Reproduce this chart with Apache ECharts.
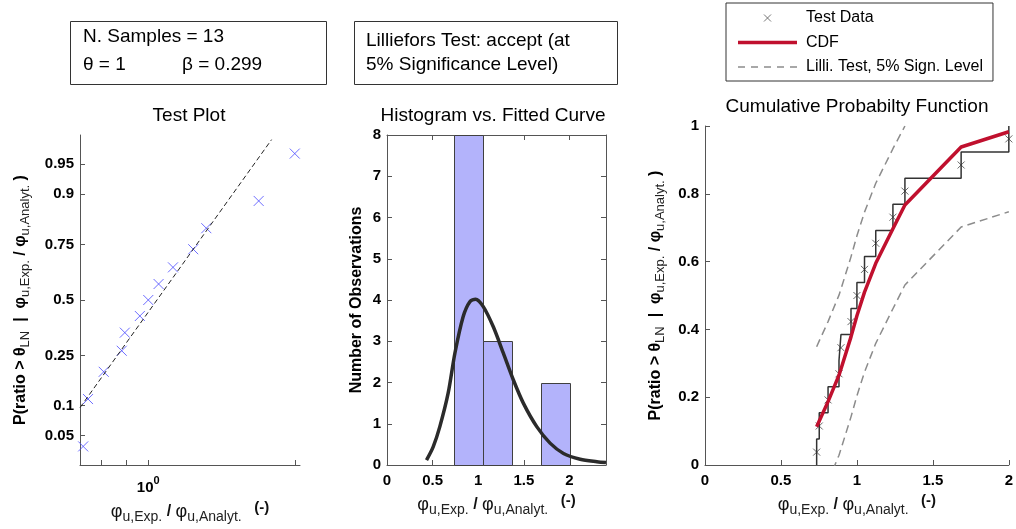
<!DOCTYPE html>
<html>
<head>
<meta charset="utf-8">
<title>Lognormal fit check</title>
<script src="https://cdn.jsdelivr.net/npm/echarts@6/dist/echarts.min.js"></script>
<style>
  html, body { margin: 0; padding: 0; background: #fff; }
  #main { width: 1016px; height: 529px; }
</style>
</head>
<body>
<div id="main"></div>
<script>
// measured ratios phi_u,Exp / phi_u,Analyt (sorted)
var sampleRatio = [0.735, 0.752, 0.81, 0.882, 0.895, 0.961, 1.0, 1.05, 1.124, 1.237, 1.316, 1.686, 2.0];
// plotting positions of the samples
var sampleProb = [0.038, 0.115, 0.192, 0.269, 0.346, 0.423, 0.5, 0.577, 0.654, 0.731, 0.808, 0.885, 0.962];
// empirical cdf levels, first one is the foot of the stair
var stepLevel = [0, 0.077, 0.154, 0.231, 0.308, 0.385, 0.462, 0.538, 0.615, 0.692, 0.769, 0.846, 0.923, 1.0];
// fitted lognormal cdf at the samples
var cdfFit = [0.113, 0.13, 0.187, 0.265, 0.283, 0.378, 0.44, 0.51, 0.595, 0.697, 0.767, 0.938, 0.983];
// lilliefors bounds at the samples (null = not drawn)
var lilliUpper = [0.349, 0.366, 0.423, 0.501, 0.519, 0.614, 0.676, 0.746, 0.831, 0.933, 1.0, null, null];
var lilliLower = [null, null, -0.049, 0.029, 0.047, 0.142, 0.204, 0.274, 0.359, 0.461, 0.531, 0.702, 0.747];

// histogram
var binEdges = [0.735, 1.051, 1.367, 1.684, 2.0];
var binCount = [8, 3, 0, 2];
var fitCurveX = [0.433, 0.506, 0.579, 0.67, 0.744, 0.835, 0.908, 0.971, 1.055, 1.165, 1.275, 1.385, 1.494, 1.641, 1.787, 1.934, 2.117, 2.3, 2.4];
var fitCurveY = [0.12, 0.44, 0.93, 1.74, 2.71, 3.6, 3.96, 4.02, 3.84, 3.35, 2.71, 2.06, 1.5, 0.93, 0.53, 0.28, 0.14, 0.08, 0.06];

// test plot reference line (ends)
var refLineX = [0.724, 1.792];
var refLineP = [0.096, 0.974];
var probTicks = [0.05, 0.1, 0.25, 0.5, 0.75, 0.9, 0.95];
var logMinorTicks = [0.8, 0.9, 1, 2];
var histTicks = [0, 0.5, 1, 1.5, 2];

var FONT = '"Liberation Sans", Arial, Helvetica, sans-serif';
var AXIS_COLOR = '#555';
var cross = 'path://M0,0L10,10M10,0L0,10';
// legend icons
var crossIcon = 'path://M0,0M20,20M5,5L15,15M15,5L5,15';
var solidIcon = 'path://M0,0L59,0L59,3.5L0,3.5Z';
var dashIcon = 'path://M0,0h7v1.5h-7zM13,0h7v1.5h-7zM26,0h7v1.5h-7zM39,0h7v1.5h-7zM52,0h7v1.5h-7z';

// normal quantile (Abramowitz & Stegun 26.2.23) for the probability scale
function norminv(p) {
  if (Math.abs(p - 0.5) < 1e-9) return 0;
  var q = p < 0.5 ? p : 1 - p;
  var t = Math.sqrt(-2 * Math.log(q));
  var z = t - (2.515517 + 0.802853 * t + 0.010328 * t * t) /
              (1 + 1.432788 * t + 0.189269 * t * t + 0.001308 * t * t * t);
  return p < 0.5 ? -z : z;
}

var probTickZ = probTicks.map(norminv);

var yName = '{b|P(ratio > θ}{s|LN}{b|  |  φ}{s|u,Exp.}{b| / φ}{s|u,Analyt.}{b| )}';
var yRich = {
  b: { fontFamily: FONT, fontSize: 16, fontWeight: 'bold', color: '#000', lineHeight: 22 },
  s: { fontFamily: FONT, fontSize: 13, color: '#222', lineHeight: 12, verticalAlign: 'bottom' }
};
var xName = '{p|φ}{s|u,Exp.}{b| / }{p|φ}{s|u,Analyt.}{c|   (-)}';
var xRich = {
  p: { fontFamily: FONT, fontSize: 18, color: '#111', lineHeight: 24 },
  s: { fontFamily: FONT, fontSize: 14, color: '#222', lineHeight: 14, verticalAlign: 'bottom' },
  b: { fontFamily: FONT, fontSize: 16, fontWeight: 'bold', color: '#111', lineHeight: 24 },
  c: { fontFamily: FONT, fontSize: 15, fontWeight: 'bold', color: '#111', lineHeight: 14, verticalAlign: 'top' }
};

function baseAxis(extra) {
  var ax = {
    type: 'value',
    axisLine: { show: true, onZero: false, lineStyle: { color: AXIS_COLOR, width: 1 } },
    axisTick: { show: true, inside: true, length: 5, lineStyle: { color: AXIS_COLOR } },
    axisLabel: { fontFamily: FONT, fontSize: 15, fontWeight: 'bold', color: '#000', margin: 8 },
    splitLine: { show: false }
  };
  for (var k in extra) {
    if (typeof extra[k] === 'object' && ax[k] && !Array.isArray(extra[k])) {
      for (var j in extra[k]) ax[k][j] = extra[k][j];
    } else {
      ax[k] = extra[k];
    }
  }
  return ax;
}

var chart = echarts.init(document.getElementById('main'));

chart.setOption({
  animation: false,
  backgroundColor: '#fff',
  title: [
    { text: 'Test Plot', left: 189, top: 106, textAlign: 'center', padding: 0,
      textStyle: { fontFamily: FONT, fontSize: 19, fontWeight: 'normal', color: '#000' } },
    { text: 'Histogram vs. Fitted Curve', left: 493, top: 106, textAlign: 'center', padding: 0,
      textStyle: { fontFamily: FONT, fontSize: 19, fontWeight: 'normal', color: '#000' } },
    { text: 'Cumulative Probabilty Function', left: 857, top: 97, textAlign: 'center', padding: 0,
      textStyle: { fontFamily: FONT, fontSize: 19, fontWeight: 'normal', color: '#000' } }
  ],
  graphic: [
    { type: 'rect', shape: { x: 70.5, y: 21.5, width: 256, height: 63 },
      style: { fill: '#fff', stroke: '#333', lineWidth: 1 } },
    { type: 'text', x: 83, y: 37, style: { text: 'N. Samples = 13', font: '19px ' + FONT, fill: '#000', verticalAlign: 'middle' } },
    { type: 'text', x: 83, y: 65, style: { text: 'θ = 1', font: '19px ' + FONT, fill: '#000', verticalAlign: 'middle' } },
    { type: 'text', x: 182, y: 65, style: { text: 'β = 0.299', font: '19px ' + FONT, fill: '#000', verticalAlign: 'middle' } },
    { type: 'rect', shape: { x: 354.5, y: 21.5, width: 263, height: 63 },
      style: { fill: '#fff', stroke: '#333', lineWidth: 1 } },
    { type: 'text', x: 366, y: 41, style: { text: 'Lilliefors Test: accept (at', font: '19px ' + FONT, fill: '#000', verticalAlign: 'middle' } },
    { type: 'text', x: 366, y: 65, style: { text: '5% Significance Level)', font: '19px ' + FONT, fill: '#000', verticalAlign: 'middle' } }
  ],
  legend: {
    orient: 'vertical',
    left: 726,
    top: 3,
    padding: [7, 10, 6, 12],
    itemGap: 8.5,
    itemWidth: 59,
    itemHeight: 14,
    borderColor: '#333',
    borderWidth: 1,
    selectedMode: false,
    textStyle: { fontFamily: FONT, fontSize: 16, color: '#000', padding: [0, 0, 0, 4] },
    data: [
      { name: 'Test Data', icon: crossIcon, itemStyle: { color: 'transparent', borderColor: '#555', borderWidth: 1 } },
      { name: 'CDF', icon: solidIcon, itemStyle: { color: '#c0102e', borderWidth: 0 } },
      { name: 'Lilli. Test, 5% Sign. Level', icon: dashIcon, itemStyle: { color: '#8c8c8c', borderWidth: 0 } }
    ]
  },
  grid: [
    { left: 80, top: 135, width: 220, height: 330 },
    { left: 387, top: 135, width: 219, height: 330 },
    { left: 705, top: 126, width: 306, height: 339 }
  ],
  xAxis: [
    baseAxis({
      gridIndex: 0,
      min: Math.log10(0.724), max: Math.log10(2.05),
      axisTick: { customValues: logMinorTicks.map(Math.log10) },
      axisLabel: {
        customValues: [0],
        margin: 10,
        formatter: function () { return '{b|10}{e|0}'; },
        rich: {
          b: { fontFamily: FONT, fontSize: 15, fontWeight: 'bold', color: '#000', lineHeight: 20, verticalAlign: 'bottom' },
          e: { fontFamily: FONT, fontSize: 11, fontWeight: 'bold', color: '#000', lineHeight: 11, verticalAlign: 'top' }
        }
      },
      name: xName, nameLocation: 'middle', nameGap: 27,
      nameTextStyle: { rich: xRich }
    }),
    baseAxis({
      gridIndex: 1, min: 0, max: 2.4,
      axisTick: { customValues: histTicks },
      axisLabel: { customValues: histTicks },
      name: xName, nameLocation: 'middle', nameGap: 27,
      nameTextStyle: { rich: xRich }
    }),
    baseAxis({
      gridIndex: 1, min: 0, max: 2.4, position: 'top',
      axisTick: { customValues: histTicks },
      axisLabel: { show: false }
    }),
    baseAxis({
      gridIndex: 2, min: 0, max: 2, interval: 0.5,
      name: xName, nameLocation: 'middle', nameGap: 27,
      nameTextStyle: { rich: xRich }
    })
  ],
  yAxis: [
    baseAxis({
      gridIndex: 0, min: -2, max: 2,
      axisTick: { customValues: probTickZ },
      axisLabel: {
        customValues: probTickZ,
        margin: 6,
        formatter: function (v) {
          for (var i = 0; i < probTickZ.length; i++) {
            if (Math.abs(probTickZ[i] - v) < 1e-6) return String(probTicks[i]);
          }
          return '';
        }
      },
      name: yName, nameLocation: 'middle', nameRotate: 90, nameGap: 48,
      nameTextStyle: { rich: yRich }
    }),
    baseAxis({
      gridIndex: 1, min: 0, max: 8, interval: 1,
      axisLabel: { margin: 6 },
      name: '{b|Number of Observations}', nameLocation: 'middle', nameRotate: 90, nameGap: 20,
      nameTextStyle: { rich: { b: { fontFamily: FONT, fontSize: 16, fontWeight: 'bold', color: '#000', lineHeight: 20 } } }
    }),
    baseAxis({
      gridIndex: 1, min: 0, max: 8, interval: 1, position: 'right',
      axisLabel: { show: false }
    }),
    baseAxis({
      gridIndex: 2, min: 0, max: 1, interval: 0.2,
      axisLabel: { margin: 6 },
      name: yName, nameLocation: 'middle', nameRotate: 90, nameGap: 38,
      nameTextStyle: { rich: yRich }
    })
  ],
  series: [
    // --- test plot
    {
      name: 'ref',
      type: 'line',
      xAxisIndex: 0, yAxisIndex: 0,
      symbol: 'none',
      silent: true,
      lineStyle: { color: '#222', width: 1, type: [5, 3] },
      data: refLineX.map(function (x, i) { return [Math.log10(x), norminv(refLineP[i])]; })
    },
    {
      name: 'probPoints',
      type: 'scatter',
      xAxisIndex: 0, yAxisIndex: 0,
      symbol: cross,
      symbolSize: 10,
      itemStyle: { color: 'transparent', borderColor: '#4a4aff', borderWidth: 1 },
      data: sampleRatio.map(function (x, i) { return [Math.log10(x), norminv(sampleProb[i])]; })
    },
    // --- histogram
    {
      name: 'bins',
      type: 'custom',
      xAxisIndex: 1, yAxisIndex: 1,
      encode: { x: [0, 1], y: 2 },
      renderItem: function (params, api) {
        if (api.value(2) <= 0) return null;
        var p0 = api.coord([api.value(0), api.value(2)]);
        var p1 = api.coord([api.value(1), 0]);
        return {
          type: 'rect',
          shape: { x: Math.round(p0[0]) + 0.5, y: Math.round(p0[1]) + 0.5,
                   width: Math.round(p1[0]) - Math.round(p0[0]), height: Math.round(p1[1]) - Math.round(p0[1]) },
          style: { fill: '#b3b3fb', stroke: '#404040', lineWidth: 1 }
        };
      },
      data: binCount.map(function (c, i) { return [binEdges[i], binEdges[i + 1], c]; })
    },
    {
      name: 'fit',
      type: 'line',
      xAxisIndex: 1, yAxisIndex: 1,
      symbol: 'none',
      smooth: 0.3,
      lineStyle: { color: '#2b2b2b', width: 3.5 },
      data: fitCurveX.map(function (x, i) { return [x, fitCurveY[i]]; })
    },
    // --- cdf
    {
      name: 'Lilli. Test, 5% Sign. Level',
      type: 'line',
      xAxisIndex: 3, yAxisIndex: 3,
      symbol: 'none',
      lineStyle: { color: '#8c8c8c', width: 1.5, type: [8, 5] },
      itemStyle: { color: '#8c8c8c' },
      data: sampleRatio.map(function (x, i) { return [x, lilliUpper[i]]; })
    },
    {
      name: 'Lilli. Test, 5% Sign. Level',
      type: 'line',
      xAxisIndex: 3, yAxisIndex: 3,
      symbol: 'none',
      lineStyle: { color: '#8c8c8c', width: 1.5, type: [8, 5] },
      itemStyle: { color: '#8c8c8c' },
      data: sampleRatio.map(function (x, i) { return [x, lilliLower[i]]; })
    },
    {
      name: 'ecdf',
      type: 'line',
      xAxisIndex: 3, yAxisIndex: 3,
      symbol: 'none',
      step: 'end',
      lineStyle: { color: '#333', width: 1.5 },
      data: [sampleRatio[0]].concat(sampleRatio).map(function (x, i) { return [x, stepLevel[i]]; })
    },
    {
      name: 'Test Data',
      type: 'scatter',
      xAxisIndex: 3, yAxisIndex: 3,
      symbol: cross,
      symbolSize: 7,
      itemStyle: { color: 'transparent', borderColor: '#444', borderWidth: 1 },
      data: sampleRatio.map(function (x, i) { return [x, sampleProb[i]]; })
    },
    {
      name: 'CDF',
      type: 'line',
      xAxisIndex: 3, yAxisIndex: 3,
      symbol: 'none',
      lineStyle: { color: '#c0102e', width: 3.5 },
      itemStyle: { color: '#c0102e' },
      data: sampleRatio.map(function (x, i) { return [x, cdfFit[i]]; })
    }
  ]
});
</script>
</body>
</html>
